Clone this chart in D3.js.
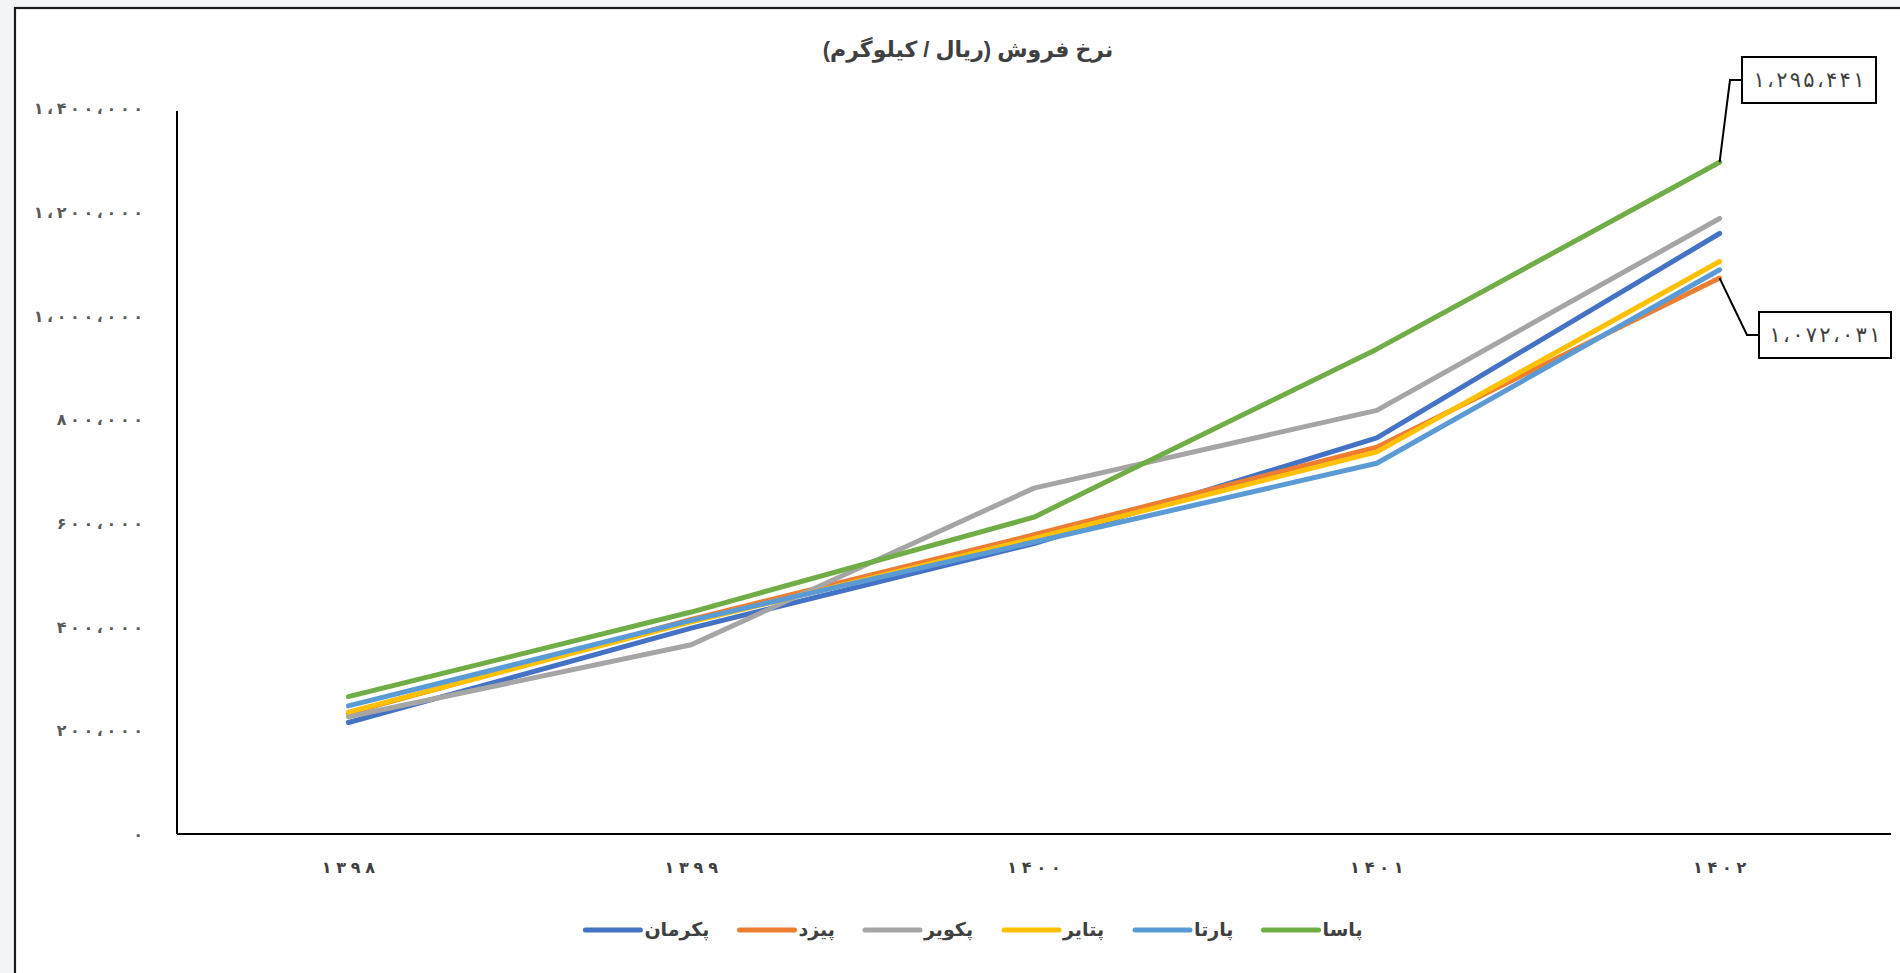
<!DOCTYPE html>
<html><head><meta charset="utf-8">
<script src="https://cdn.jsdelivr.net/npm/d3@7"></script>
<style>
html,body{margin:0;padding:0;background:#f3f4f6;}
svg{display:block;}
</style></head>
<body>
<svg id="chart" width="1900" height="973"></svg>
<script>
// ---- data ----
const chartTitle = "نرخ فروش (ریال / کیلوگرم)";
const years = ["1398", "1399", "1400", "1401", "1402"];
const seriesNames = ["پکرمان", "پیزد", "پکویر", "پتایر", "پارتا", "پاسا"];
const seriesColors = ["#4472C4", "#ED7D31", "#A5A5A5", "#FFC000", "#5B9BD5", "#70AD47"];
const pakermanValues = [215000, 397000, 560000, 764000, 1158000];
const piazdValues    = [233000, 414000, 577000, 746000, 1072031];
const pakvirValues   = [226000, 365000, 667000, 817000, 1187000];
const petayerValues  = [235000, 409000, 570000, 737000, 1104000];
const partaValues    = [247000, 412000, 563000, 715000, 1088000];
const pasaValues     = [265000, 428000, 611000, 935000, 1295441];
const yTicks = [0, 200000, 400000, 600000, 800000, 1000000, 1200000, 1400000];
const calloutSeries = ["پاسا", "پیزد"];

const seriesValues = [pakermanValues, piazdValues, pakvirValues, petayerValues, partaValues, pasaValues];
const series = seriesNames.map((n, i) => ({name: n, color: seriesColors[i], values: seriesValues[i]}));

const faDigits = "۰۱۲۳۴۵۶۷۸۹";
const toFa = s => String(s).replace(/\d/g, d => faDigits[+d]).replace(/,/g, "،");
const fmt = v => toFa(d3.format(",")(v));

// render string as per-character tspans with extra spacing
function spaced(sel, gap) {
  sel.each(function() {
    const t = d3.select(this);
    const str = t.text();
    t.text(null);
    Array.from(str).forEach((ch, i) => {
      t.append("tspan").attr("dx", i === 0 ? 0 : gap).text(ch);
    });
  });
}

const svg = d3.select("#chart");
const W = 1900, H = 973;
// chart area frame
svg.append("rect").attr("x", 15).attr("y", 8).attr("width", W + 10).attr("height", H + 10)
  .attr("fill", "#fff").attr("stroke", "#1a1a1a").attr("stroke-width", 2.2);

const plot = {left: 177, right: 1891, top: 108, bottom: 834};
const x = d3.scaleBand().domain(years).range([plot.left, plot.right]);
const y = d3.scaleLinear().domain([0, 1400000]).range([plot.bottom, plot.top]);
const cx = yr => x(yr) + x.bandwidth() / 2;

const font = "'Liberation Sans', Arial, 'DejaVu Sans', sans-serif";

// title
svg.append("text").attr("x", 968).attr("y", 57).attr("text-anchor", "middle")
  .attr("direction", "rtl")
  .attr("font-family", font).attr("font-weight", "bold").attr("font-size", 22)
  .attr("fill", "#404040").text(chartTitle);

// y axis
const yAxis = d3.axisLeft(y).tickValues(yTicks).tickSize(0).tickPadding(34).tickFormat(fmt);
const gy = svg.append("g").attr("transform", `translate(${plot.left},0)`).call(yAxis);
gy.select(".domain").attr("stroke", "#000").attr("stroke-width", 2).attr("d", `M0,${y(1400000)+3}V${plot.bottom}`);
gy.selectAll("text").attr("font-family", font).attr("font-size", 16).attr("font-weight", "bold")
  .attr("fill", "#595959").attr("dy", "0.35em").call(spaced, 3.6);

// x axis
const xAxis = d3.axisBottom(x).tickSize(0).tickPadding(28).tickFormat(toFa);
const gx = svg.append("g").attr("transform", `translate(0,${plot.bottom})`).call(xAxis);
gx.select(".domain").attr("stroke", "#000").attr("stroke-width", 2).attr("d", `M${plot.left},0H${plot.right}`);
gx.selectAll("text").attr("font-family", font).attr("font-size", 16).attr("fill", "#404040")
  .attr("font-weight", "bold").call(spaced, 4.8);

// lines
const line = d3.line().x((d, i) => cx(years[i])).y(d => y(d));
svg.append("g").selectAll("path").data(series).join("path")
  .attr("d", d => line(d.values)).attr("fill", "none")
  .attr("stroke", d => d.color).attr("stroke-width", 5)
  .attr("stroke-linecap", "round").attr("stroke-linejoin", "round");

// callouts
const lastYear = years[years.length - 1];
const boxes = [
  {name: calloutSeries[0], bx: 1742, by: 57, bw: 134, bh: 46, elbowX: 1730},
  {name: calloutSeries[1], bx: 1759, by: 312, bw: 132, bh: 46, elbowX: 1747}
];
boxes.forEach(b => {
  const s = series.find(d => d.name === b.name);
  const v = s.values[s.values.length - 1];
  const px = cx(lastYear), py = y(v);
  const my = b.by + b.bh / 2;
  svg.append("path").attr("d", `M${px},${py}L${b.elbowX},${my}H${b.bx}`)
    .attr("fill", "none").attr("stroke", "#000").attr("stroke-width", 2);
  svg.append("rect").attr("x", b.bx).attr("y", b.by).attr("width", b.bw).attr("height", b.bh)
    .attr("fill", "#fff").attr("stroke", "#000").attr("stroke-width", 2);
  svg.append("text").attr("x", b.bx + b.bw / 2).attr("y", my).attr("dy", "0.35em")
    .attr("text-anchor", "middle").attr("font-family", font).attr("font-size", 21)
    .attr("fill", "#404040").text(fmt(v)).call(spaced, 2.3);
});

// legend
const lg = svg.append("g");
const lineLen = 55, gapText = 4, gapItem = 30, legY = 930;
const items = series.map(s => {
  const g = lg.append("g");
  g.append("line").attr("x1", 0).attr("x2", lineLen).attr("y1", 0).attr("y2", 0)
    .attr("stroke", s.color).attr("stroke-width", 5).attr("stroke-linecap", "round");
  const t = g.append("text").attr("x", lineLen + gapText).attr("y", 0).attr("dy", "0.3em")
    .attr("text-anchor", "start").attr("font-family", font).attr("font-weight", "bold")
    .attr("font-size", 19).attr("fill", "#404040").text(s.name);
  const bb = t.node().getBBox();
  return {g, w: lineLen + gapText + bb.width};
});
const total = d3.sum(items, d => d.w) + gapItem * (items.length - 1);
let pos = 974 - total / 2;
items.forEach(it => { it.g.attr("transform", `translate(${pos},${legY})`); pos += it.w + gapItem; });
</script>
</body></html>
